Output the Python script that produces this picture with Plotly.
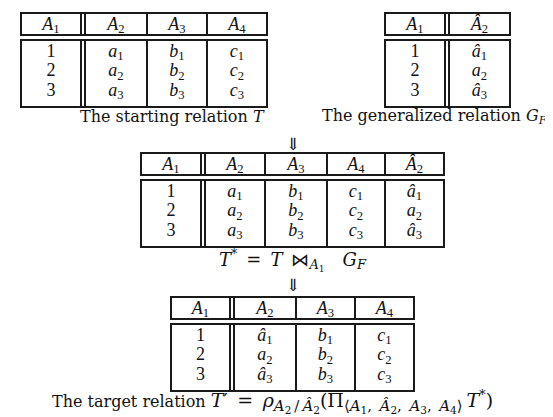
import plotly.graph_objects as go

W, H = 553, 417

# relation contents ("^" marks a hat, "_" a subscript)
T_cols = ["A_1", "A_2", "A_3", "A_4"]
T_rows = [["1", "a_1", "b_1", "c_1"],
          ["2", "a_2", "b_2", "c_2"],
          ["3", "a_3", "b_3", "c_3"]]

GF_cols = ["A_1", "^A_2"]
GF_rows = [["1", "^a_1"],
           ["2", "a_2"],
           ["3", "^a_3"]]

Tstar_cols = ["A_1", "A_2", "A_3", "A_4", "^A_2"]
Tstar_rows = [["1", "a_1", "b_1", "c_1", "^a_1"],
              ["2", "a_2", "b_2", "c_2", "a_2"],
              ["3", "a_3", "b_3", "c_3", "^a_3"]]

Tp_cols = ["A_1", "A_2", "A_3", "A_4"]
Tp_rows = [["1", "^a_1", "b_1", "c_1"],
           ["2", "a_2", "b_2", "c_2"],
           ["3", "^a_3", "b_3", "c_3"]]

EN, EM, THIN = "\u2002", "\u2003", "\u2009"


def sub(s, size=14):
    return f'<sub><span style="font-size:{size}px">{s}</span></sub>'


def m(s, size=19):
    return f'<span style="font-size:{size}px">{s}</span>'


captions = [
    "The starting relation <i>T</i>",
    "The generalized relation <i>G</i><sub><i>F</i></sub>",
    m(f"<i>T</i><sup>*</sup>{EN}={EN}<i>T</i>{EN}\u22c8" + sub("<i>A</i><sub>1</sub>", 13)
      + f"{EM}<i>G</i>" + sub("<i>F</i>", 13), 18),
    "The target relation " + m(
        f"<i>T</i>\u2032{EN}={EN}<i>\u03c1</i>"
        + sub(f"<i>A</i><sub>2</sub>{THIN}/{THIN}<i>\u00c2</i><sub>2</sub>", 15)
        + "(\u03a0"
        + sub(f"\u27e8<i>A</i><sub>1</sub>,{EN}<i>\u00c2</i><sub>2</sub>,{EN}"
              f"<i>A</i><sub>3</sub>,{EN}<i>A</i><sub>4</sub>\u27e9", 15)
        + f"{THIN}<i>T</i><sup>*</sup>)"),
]

CELL_FONT = dict(family="Liberation Serif", size=18, color="#111")
CAP_FONT = dict(family="DejaVu Serif", size=16, color="#111")
LINE = "#1a1a1a"


def tex(s):
    if s.isdigit():
        return s
    hat = s.startswith("^")
    base, sb = s.lstrip("^").split("_")
    if hat:
        base = {"a": "\u00e2", "A": "\u00c2"}[base]
    return f"<i>{base}</i><sub>{sb}</sub>"


fig = go.Figure()


def draw_table(x0, y0, widths, cols, rows, head_h=22, gap=5, body_h=67, dbl=4):
    # column edges, with a double rule after the key column
    edges = [x0, x0 + widths[0]]
    x = x0 + widths[0] + dbl
    starts = [x0, x]
    for w in widths[1:]:
        x += w
        edges.append(x)
        starts.append(x)
    starts = starts[:len(widths)]
    centers = [s + w / 2 for s, w in zip(starts, widths)]
    x1 = edges[-1]

    for top, bot in [(y0, y0 + head_h), (y0 + head_h + gap, y0 + head_h + gap + body_h)]:
        fig.add_shape(type="rect", x0=x0, x1=x1, y0=top, y1=bot,
                      line=dict(color=LINE, width=2))
        fig.add_shape(type="line", x0=edges[1] + dbl, x1=edges[1] + dbl, y0=top, y1=bot,
                      line=dict(color=LINE, width=2))
        for e in edges[1:-1]:
            fig.add_shape(type="line", x0=e, x1=e, y0=top, y1=bot,
                          line=dict(color=LINE, width=2))

    xs, ys, txt = [], [], []
    for c, name in zip(centers, cols):
        xs.append(c)
        ys.append(y0 + head_h / 2 + 1)
        txt.append(tex(name))
    body_top = y0 + head_h + gap
    for i, row in enumerate(rows):
        for c, val in zip(centers, row):
            xs.append(c)
            ys.append(body_top + 12 + i * 19.5)
            txt.append(tex(val))
    fig.add_trace(go.Scatter(x=xs, y=ys, text=txt, mode="text",
                             textfont=CELL_FONT, hoverinfo="skip"))


draw_table(13, 5, [60, 62, 60, 60], T_cols, T_rows)
draw_table(377, 5, [60, 61], GF_cols, GF_rows)
draw_table(133, 145, [60, 60, 62, 58, 59], Tstar_cols, Tstar_rows)
draw_table(163, 289, [59, 62, 59, 59], Tp_cols, Tp_rows)

cap_pos = [(164, 108, "center"), (427, 108, "center"), (285, 252, "center"), (42, 393, "left")]
for (cx, cy, anchor), text in zip(cap_pos, captions):
    fig.add_annotation(x=cx, y=cy, text=text, showarrow=False, font=CAP_FONT,
                       xanchor=anchor, yanchor="middle")

for ay in [136, 277]:
    fig.add_annotation(x=285, y=ay, text="\u21d3", showarrow=False,
                       font=dict(family="DejaVu Serif", size=17, color="#111"))

fig.update_layout(
    width=W, height=H, margin=dict(l=0, r=0, t=0, b=0),
    paper_bgcolor="white", plot_bgcolor="white", showlegend=False,
    xaxis=dict(range=[0, W], visible=False, fixedrange=True),
    yaxis=dict(range=[H, 0], visible=False, fixedrange=True),
)

fig.write_html("out.html")
